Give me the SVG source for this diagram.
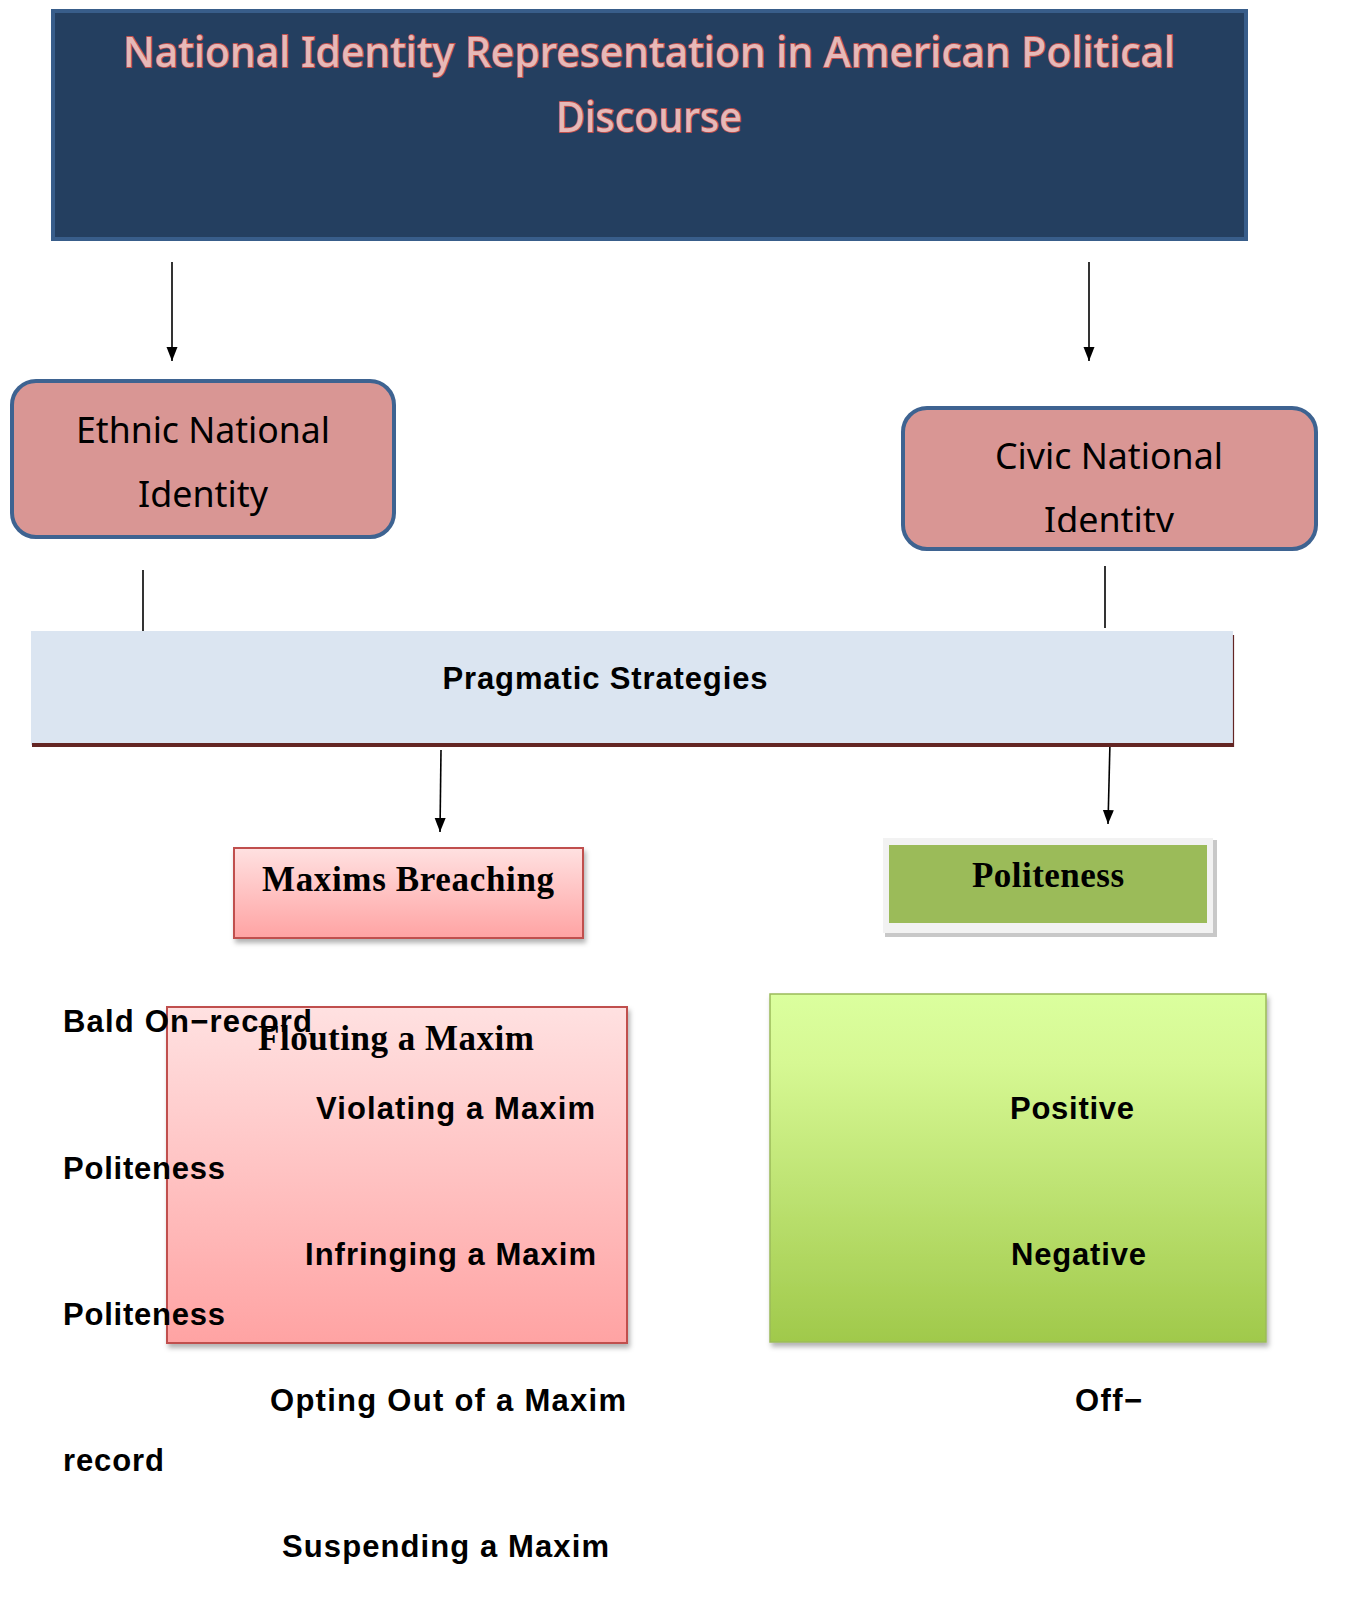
<svg xmlns="http://www.w3.org/2000/svg" width="1364" height="1616" viewBox="0 0 1364 1616">
  <style>
    .ar { font-family: "Liberation Sans", Arial, sans-serif; font-weight: bold; font-size: 31px; fill: #000; }
    .tm { font-family: "Liberation Serif", "Times New Roman", serif; font-weight: bold; font-size: 35px; fill: #000; }
    .cal { font-family: "Noto Sans", "Open Sans", sans-serif; font-size: 37px; fill: #000; }
    .ttl { font-family: "Noto Sans", "Open Sans", sans-serif; font-size: 42px; fill: #E6B9B8; stroke: #C0504D; stroke-width: 1.8px; paint-order: stroke; font-weight: 500; }
    .conn { stroke: #000; stroke-width: 1.6; fill: none; }
  </style>
  <defs>
    <marker id="ah2" markerWidth="14" markerHeight="14" refX="14" refY="7" orient="auto" markerUnits="userSpaceOnUse" viewBox="0 0 14 14">
      <path d="M0,1.5 L14,7 L0,12.5 Z" fill="#000"/>
    </marker>
    <linearGradient id="gPink" x1="0" y1="0" x2="0" y2="1">
      <stop offset="0" stop-color="#FFE1E1"/>
      <stop offset="1" stop-color="#FFA3A3"/>
    </linearGradient>
    <linearGradient id="gGreen" x1="0" y1="0" x2="0" y2="1">
      <stop offset="0" stop-color="#DBFF9E"/>
      <stop offset="0.2" stop-color="#D6F893"/>
      <stop offset="1" stop-color="#A0C94B"/>
    </linearGradient>
    <filter id="sh" x="-5%" y="-5%" width="115%" height="120%">
      <feDropShadow dx="2" dy="4" stdDeviation="2.5" flood-color="#000" flood-opacity="0.3"/>
    </filter>
    <clipPath id="civicClip">
      <rect x="903" y="408" width="413" height="124"/>
    </clipPath>
  </defs>

  <g id="title">
    <rect x="53" y="11" width="1193" height="228" fill="#243F60" stroke="#385D8A" stroke-width="4"/>
    <text class="ttl" x="649" y="67" text-anchor="middle" textLength="1052" lengthAdjust="spacingAndGlyphs">National Identity Representation in American  Political</text>
    <text class="ttl" x="649" y="132" text-anchor="middle" textLength="186" lengthAdjust="spacingAndGlyphs">Discourse</text>
  </g>

  <g id="connectors">
    <line class="conn" x1="172" y1="262" x2="172" y2="361" marker-end="url(#ah2)"/>
    <line class="conn" x1="1089" y1="262" x2="1089" y2="361" marker-end="url(#ah2)"/>
    <line class="conn" x1="143" y1="570" x2="143" y2="632"/>
    <line class="conn" x1="1105" y1="566" x2="1105" y2="628"/>
    <line class="conn" x1="441" y1="750" x2="440" y2="832" marker-end="url(#ah2)"/>
    <line class="conn" x1="1110" y1="742" x2="1108" y2="824" marker-end="url(#ah2)"/>
  </g>

  <g id="ethnic">
    <rect x="12" y="381" width="382" height="156" rx="24" fill="#D99694" stroke="#3E6391" stroke-width="4"/>
    <text class="cal" x="203" y="443" text-anchor="middle" textLength="254" lengthAdjust="spacingAndGlyphs">Ethnic National</text>
    <text class="cal" x="203" y="507" text-anchor="middle" textLength="130" lengthAdjust="spacingAndGlyphs">Identity</text>
  </g>

  <g id="civic">
    <rect x="903" y="408" width="413" height="141" rx="24" fill="#D99694" stroke="#3E6391" stroke-width="4"/>
    <text class="cal" x="1109" y="469" text-anchor="middle" textLength="228" lengthAdjust="spacingAndGlyphs">Civic National</text>
    <text class="cal" x="1109" y="533" text-anchor="middle" textLength="130" lengthAdjust="spacingAndGlyphs" clip-path="url(#civicClip)">Identity</text>
  </g>

  <g id="pragmatic">
    <rect x="31" y="631" width="1202" height="114" fill="#DBE5F1"/>
    <rect x="32" y="743" width="1202" height="4" fill="#632523"/>
    <line x1="1233.5" y1="635" x2="1233.5" y2="747" stroke="#632523" stroke-width="1.2"/>
    <text class="ar" x="605" y="689" text-anchor="middle" textLength="325" lengthAdjust="spacing">Pragmatic Strategies</text>
  </g>

  <g id="maxims-breaching">
    <rect x="234" y="848" width="349" height="90" fill="url(#gPink)" stroke="#C0504D" stroke-width="2" filter="url(#sh)"/>
    <text class="tm" x="408" y="891" text-anchor="middle" textLength="292" lengthAdjust="spacing">Maxims Breaching</text>
  </g>

  <g id="politeness">
    <rect x="885" y="840" width="332" height="97" fill="#C8C8C8"/>
    <rect x="883" y="838" width="330" height="95" fill="#F2F2F2"/>
    <rect x="889" y="845" width="318" height="78" fill="#9BBB59"/>
    <text class="tm" x="1048" y="887" text-anchor="middle" textLength="152" lengthAdjust="spacing">Politeness</text>
  </g>

  <g id="maxims-list">
    <rect x="167" y="1007" width="460" height="336" fill="url(#gPink)" stroke="#C0504D" stroke-width="2" filter="url(#sh)"/>
  </g>

  <g id="politeness-list">
    <rect x="770" y="994" width="496" height="348" fill="url(#gGreen)" stroke="#9BBB59" stroke-width="1.5" filter="url(#sh)"/>
  </g>

  <g id="texts">
    <text class="ar" x="63" y="1032" textLength="249" lengthAdjust="spacing">Bald On−record</text>
    <text class="tm" x="258" y="1050" textLength="276" lengthAdjust="spacing">Flouting a Maxim</text>
    <text class="ar" x="316" y="1119" textLength="279" lengthAdjust="spacing">Violating a Maxim</text>
    <text class="ar" x="63" y="1179" textLength="162" lengthAdjust="spacing">Politeness</text>
    <text class="ar" x="305" y="1265" textLength="291" lengthAdjust="spacing">Infringing a Maxim</text>
    <text class="ar" x="63" y="1325" textLength="162" lengthAdjust="spacing">Politeness</text>
    <text class="ar" x="270" y="1411" textLength="356" lengthAdjust="spacing">Opting Out of a Maxim</text>
    <text class="ar" x="1075" y="1411" textLength="67" lengthAdjust="spacing">Off−</text>
    <text class="ar" x="63" y="1471" textLength="101" lengthAdjust="spacing">record</text>
    <text class="ar" x="282" y="1557" textLength="327" lengthAdjust="spacing">Suspending a Maxim</text>
    <text class="ar" x="1010" y="1119" textLength="124" lengthAdjust="spacing">Positive</text>
    <text class="ar" x="1011" y="1265" textLength="135" lengthAdjust="spacing">Negative</text>
  </g>
</svg>
